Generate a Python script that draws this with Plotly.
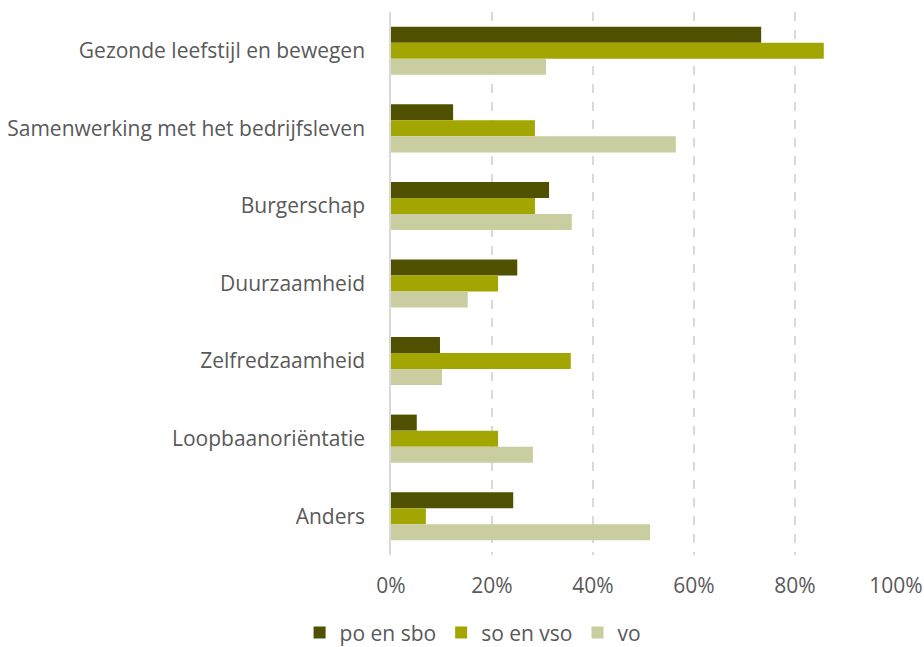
import plotly.graph_objects as go

categories = ["Gezonde leefstijl en bewegen", "Samenwerking met het bedrijfsleven",
              "Burgerschap", "Duurzaamheid", "Zelfredzaamheid",
              "Loopbaanoriëntatie", "Anders"]
po_en_sbo = [73.3, 12.3, 31.3, 25.0, 9.7, 5.1, 24.2]
so_en_vso = [85.7, 28.5, 28.5, 21.2, 35.6, 21.2, 6.9]
vo = [30.7, 56.4, 35.8, 15.2, 10.1, 28.1, 51.3]
series_names = ["po en sbo", "so en vso", "vo"]
colors = ["#4f5000", "#a3a600", "#cacda0"]
tick_vals = [0, 20, 40, 60, 80, 100]
tick_text = ["0%", "20%", "40%", "60%", "80%", "100%"]

fig = go.Figure()
for name, vals, col in zip(series_names, [po_en_sbo, so_en_vso, vo], colors):
    fig.add_trace(go.Bar(y=categories, x=vals, name=name, orientation="h",
                         marker=dict(color=col, line=dict(width=0))))

font = "Open Sans"
fs = 21
fig.update_layout(
    width=924, height=647,
    margin=dict(l=391, r=28, t=12, b=92, autoexpand=False),
    paper_bgcolor="white", plot_bgcolor="white",
    barmode="group", bargap=0.38, bargroupgap=0,
    font=dict(family=font, size=fs, color="#595959"),
    showlegend=True,
    legend=dict(orientation="h", x=0.512, xanchor="center", xref="container",
                y=0.022, yanchor="middle", yref="container",
                font=dict(size=fs, color="#595959"), itemsizing="constant",
                traceorder="normal", itemwidth=30, tracegroupgap=0),
    xaxis=dict(range=[0, 100], tickvals=tick_vals, ticktext=tick_text,
               showgrid=True, gridcolor="#d9d9d9", griddash="dash", gridwidth=1.5,
               zeroline=False, showline=False, ticks="", ticklabelstandoff=16,
               automargin=False, tickfont=dict(size=fs, color="#595959")),
    yaxis=dict(autorange="reversed", showline=True, linecolor="#d9d9d9", linewidth=1.5,
               ticks="", ticklabelstandoff=20, automargin=False,
               tickfont=dict(size=fs, color="#595959")),
)
fig.write_html("out.html", config={"displayModeBar": False},
               post_script="document.body.style.margin='0';document.body.style.overflow='hidden';")
